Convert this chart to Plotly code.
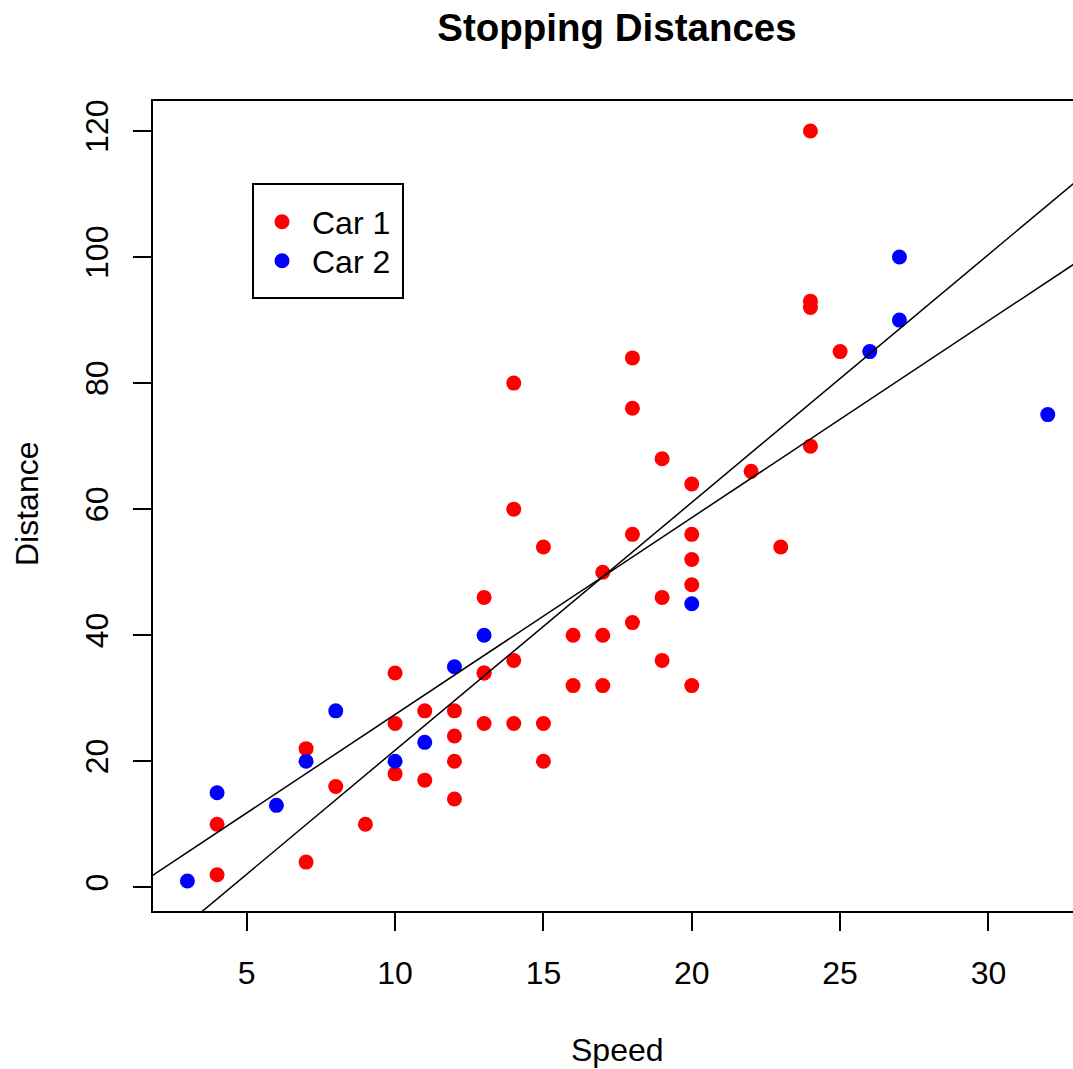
import numpy as np
import plotly.graph_objects as go

# Car 1: classic stopping-distance measurements
car1_speed = [4, 4, 7, 7, 8, 9, 10, 10, 10, 11, 11, 12, 12, 12, 12, 13, 13, 13, 13,
              14, 14, 14, 14, 15, 15, 15, 16, 16, 17, 17, 17, 18, 18, 18, 18, 19, 19,
              19, 20, 20, 20, 20, 20, 22, 23, 24, 24, 24, 24, 25]
car1_dist = [2, 10, 4, 22, 16, 10, 18, 26, 34, 17, 28, 14, 20, 24, 28, 26, 34, 34, 46,
             26, 36, 60, 80, 20, 26, 54, 32, 40, 32, 40, 50, 42, 56, 76, 84, 36, 46,
             68, 32, 48, 52, 56, 64, 66, 54, 70, 92, 93, 120, 85]

# Car 2 measurements
car2_speed = [3, 4, 6, 7, 8, 10, 11, 12, 13, 20, 26, 27, 27, 32]
car2_dist = [1, 15, 13, 20, 28, 20, 23, 35, 40, 45, 85, 90, 100, 75]

x_ticks = [5, 10, 15, 20, 25, 30]
y_ticks = [0, 20, 40, 60, 80, 100, 120]

W, H = 1073, 1069
L, R, T, B = 153, 0, 101, 158
PW, PH = W - L - R, H - T - B
FONT = "Liberation Sans, Arial, Helvetica, sans-serif"
FS = 32

x_range = [1.84, 32.85]
y_range = [-3.76, 124.76]


def px_x(p):
    return (p - L) / PW


def px_y(p):
    return 1 - (p - T) / PH


fig = go.Figure()

fig.add_trace(go.Scatter(
    x=car1_speed, y=car1_dist, mode="markers", name="Car 1", legend="legend",
    marker=dict(color="#FF0000", size=15, line=dict(width=0)),
))
fig.add_trace(go.Scatter(
    x=car2_speed, y=car2_dist, mode="markers", name="Car 2", legend="legend2",
    marker=dict(color="#0000FF", size=15, line=dict(width=0)),
))

# least-squares fit line for each car, drawn across the whole panel
line_x = np.array([0.0, 40.0])
for sx, sy in [(car1_speed, car1_dist), (car2_speed, car2_dist)]:
    slope, intercept = np.polyfit(sx, sy, 1)
    fig.add_trace(go.Scatter(
        x=line_x, y=intercept + slope * line_x, mode="lines",
        line=dict(color="black", width=1.5), showlegend=False, hoverinfo="skip",
    ))

legend_common = dict(
    xanchor="left", yanchor="middle",
    bgcolor="rgba(0,0,0,0)", borderwidth=0,
    font=dict(family=FONT, size=FS, color="black"),
    itemwidth=50,
)

fig.update_layout(
    width=W, height=H,
    margin=dict(l=L, r=R, t=T, b=B),
    paper_bgcolor="white", plot_bgcolor="white",
    font=dict(family=FONT, size=FS, color="black"),
    title=dict(
        text="<b>Stopping Distances</b>",
        font=dict(family=FONT, size=38.5, color="black"),
        x=px_x(617), xref="paper", xanchor="center",
        y=1 - 28 / H, yref="container", yanchor="middle",
    ),
    showlegend=True,
    legend=dict(x=px_x(252), y=px_y(222), **legend_common),
    legend2=dict(x=px_x(252), y=px_y(261), **legend_common),
    xaxis=dict(
        range=x_range, tickmode="array", tickvals=x_ticks,
        ticktext=[str(v) for v in x_ticks],
        showgrid=False, zeroline=False,
        showline=True, linecolor="black", linewidth=2, mirror=True,
        ticks="outside", ticklen=18, tickwidth=2, tickcolor="black",
        tickfont=dict(family=FONT, size=FS, color="black"),
        ticklabelstandoff=15,
    ),
    yaxis=dict(
        range=y_range, tickmode="array", tickvals=y_ticks,
        ticktext=[str(v) for v in y_ticks],
        showgrid=False, zeroline=False,
        showline=True, linecolor="black", linewidth=2, mirror=False,
        ticks="outside", ticklen=18, tickwidth=2, tickcolor="black",
        tickangle=-90,
        tickfont=dict(family=FONT, size=FS, color="black"),
        ticklabelstandoff=12,
    ),
    shapes=[
        # legend frame
        dict(type="rect", xref="paper", yref="paper",
             x0=px_x(253), x1=px_x(403), y0=px_y(298), y1=px_y(184),
             line=dict(color="black", width=2), fillcolor="rgba(0,0,0,0)",
             layer="above"),
    ],
    annotations=[
        dict(text="Speed", xref="paper", yref="paper",
             x=px_x(617), y=px_y(1050),
             xanchor="center", yanchor="middle", showarrow=False,
             font=dict(family=FONT, size=FS, color="black")),
        dict(text="Distance", xref="paper", yref="paper",
             x=px_x(27), y=px_y(504),
             xanchor="center", yanchor="middle", showarrow=False, textangle=-90,
             font=dict(family=FONT, size=FS, color="black")),
    ],
)

fig.write_html("out.html")
